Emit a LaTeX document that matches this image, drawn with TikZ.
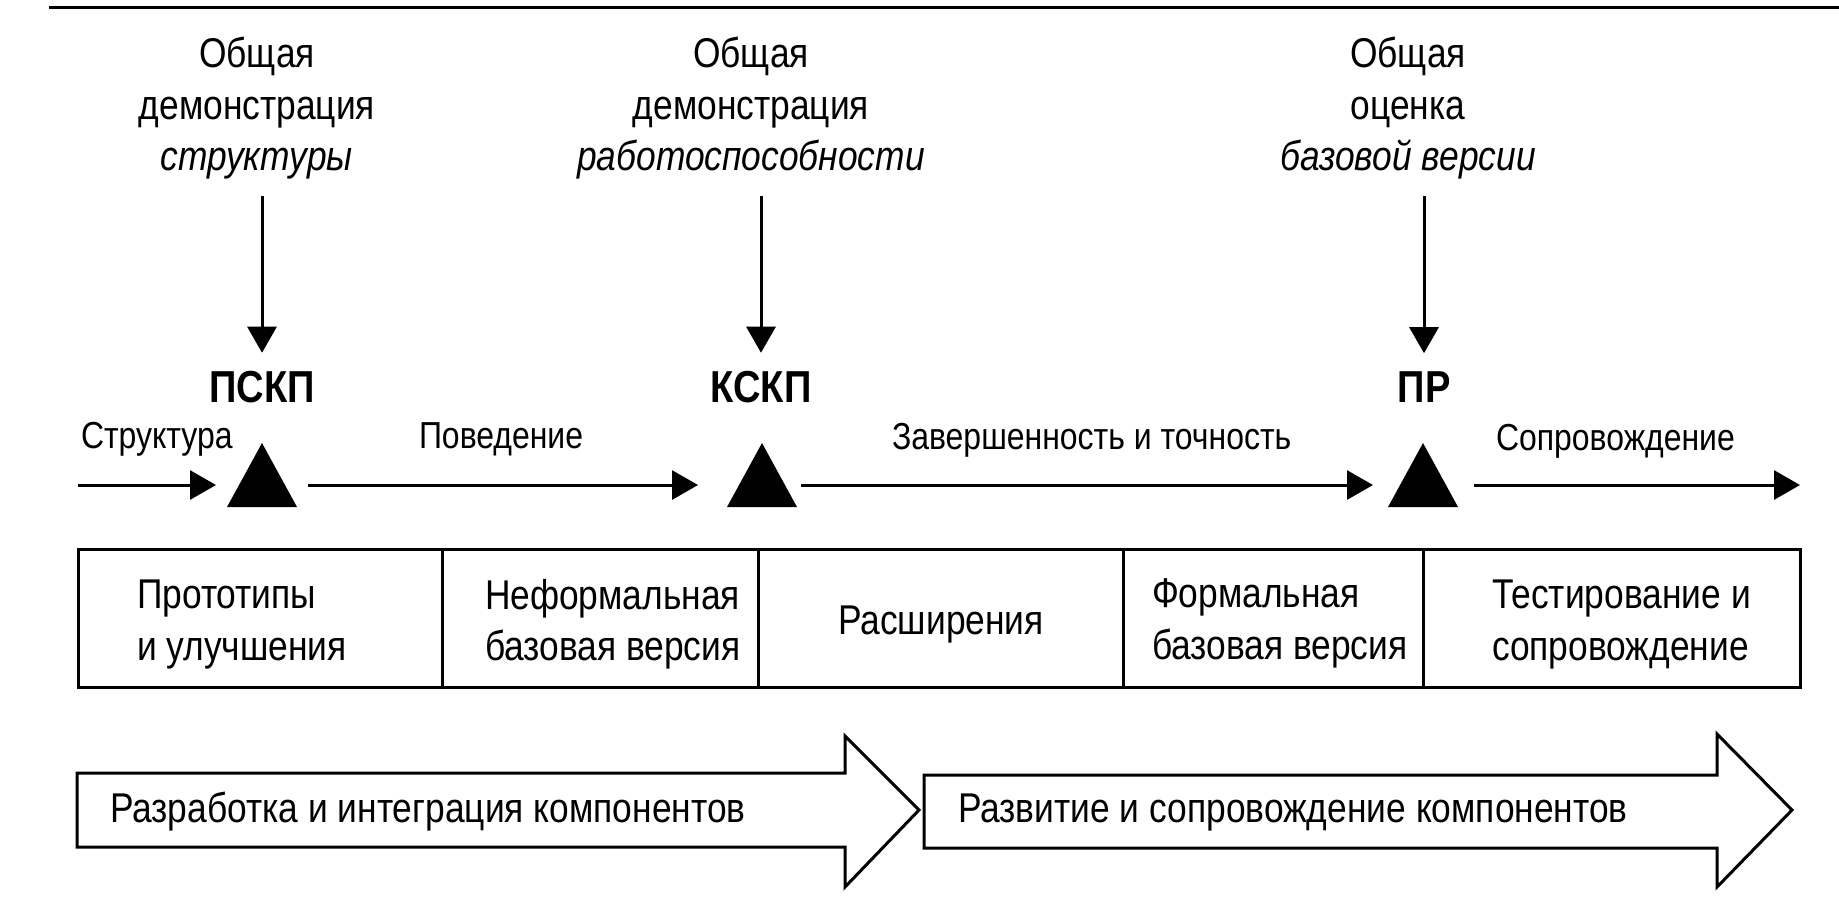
\documentclass[tikz,border=0pt]{standalone}
\usepackage{fontspec}
\setmainfont{Liberation Sans}[FakeStretch=0.85]
\usetikzlibrary{arrows.meta}
\begin{document}
\begin{tikzpicture}[x=0.25pt,y=-0.25pt,
  every node/.style={inner sep=0pt, outer sep=0pt},
  txt/.style={font=\fontsize{10.4}{12.9}\selectfont},
  toplbl/.style={txt, align=center, anchor=north},
  celltxt/.style={txt, align=left, anchor=north west},
  edgelbl/.style={font=\fontsize{9.4}{11}\selectfont, anchor=base west},
  mslbl/.style={font=\bfseries\fontsize{11.2}{13}\selectfont, anchor=base},
  tri/.style={minimum width=17.5pt, minimum height=16pt},
  cell/.style={draw, line width=0.75pt, minimum height=34.5pt},
  conn/.style={line width=0.75pt, -{Triangle[length=6.5pt,width=7.25pt]}},
  bigarrow/.style={draw, line width=0.75pt, fill=white, line join=miter},
]
\useasboundingbox (0,0) rectangle (1839,914);
\draw[line width=0.75pt] (49,7) -- (1839,7);

% review texts
\node[toplbl] (t1) at (257,37) {Общая\\демонстрация\\\textit{структуры}};
\node[toplbl] (t2) at (751,37) {Общая\\демонстрация\\\textit{работоспособности}};
\node[toplbl] (t3) at (1408,37) {Общая\\оценка\\\textit{базовой версии}};

% milestones
\node[mslbl] (m1) at (262,402) {ПСКП};
\node[mslbl] (m2) at (761,402) {КСКП};
\node[mslbl] (m3) at (1424,402) {ПР};

\draw[conn, shorten <=4.25pt, shorten >=4.5pt] (m1.north |- t1.south) -- (m1.north);
\draw[conn, shorten <=4.25pt, shorten >=4.5pt] (m2.north |- t2.south) -- (m2.north);
\draw[conn, shorten <=4.25pt, shorten >=4.5pt] (m3.north |- t3.south) -- (m3.north);

% triangles
\node[tri] (tr1) at (262,475) {};
\node[tri] (tr2) at (762,475) {};
\node[tri] (tr3) at (1423,475) {};
\fill (tr1.north) -- (tr1.south east) -- (tr1.south west) -- cycle;
\fill (tr2.north) -- (tr2.south east) -- (tr2.south west) -- cycle;
\fill (tr3.north) -- (tr3.south east) -- (tr3.south west) -- cycle;

% phase labels
\node[edgelbl] (l0) at (81,448) {Структура};
\node[edgelbl] (l1) at (419,448) {Поведение};
\node[edgelbl] (l2) at (892,449) {Завершенность и точность};
\node[edgelbl] (l3) at (1496,450) {Сопровождение};

% timeline arrows
\coordinate (s0) at (78,485);
\coordinate (e0) at (1800,485);
\draw[conn, shorten >=2.75pt] (s0) -- ([yshift=-2.5pt]tr1.west);
\draw[conn, shorten <=2.75pt, shorten >=7.25pt] ([yshift=-2.5pt]tr1.east) -- ([yshift=-2.5pt]tr2.west);
\draw[conn, shorten <=1pt, shorten >=3.75pt] ([yshift=-2.5pt]tr2.east) -- ([yshift=-2.5pt]tr3.west);
\draw[conn, shorten <=4pt] ([yshift=-2.5pt]tr3.east) -- (e0);

% cells
\node[cell, minimum width=91pt] (c1) at (260,618) {};
\node[cell, minimum width=79pt] (c2) at (600,618) {};
\node[cell, minimum width=91.25pt] (c3) at (940.5,618) {};
\node[cell, minimum width=75pt] (c4) at (1273,618) {};
\node[cell, minimum width=94.25pt] (c5) at (1611.5,618) {};

\node[celltxt] (p1) at (137,580) {Прототипы\\и улучшения};
\node[celltxt] (p2) at (485,579) {Неформальная\\базовая версия};
\node[txt, anchor=base] (p3) at (941,634) {Расширения};
\node[celltxt] (p4) at (1152,579) {Формальная\\базовая версия};
\node[celltxt] (p5) at (1492,580) {Тестирование и\\сопровождение};

% big arrows
\draw[bigarrow] (77,773) -- (845,773) -- (845,736) -- (919,810) -- (845,887) -- (845,847) -- (77,847) -- cycle;
\draw[bigarrow] (924,775) -- (1717,775) -- (1717,734) -- (1792,810) -- (1717,887) -- (1717,848) -- (924,848) -- cycle;
\node[txt, anchor=base west] (d1) at (110,822) {Разработка и интеграция компонентов};
\node[txt, anchor=base west] (d2) at (958,822) {Развитие и сопровождение компонентов};
\end{tikzpicture}
\end{document}
